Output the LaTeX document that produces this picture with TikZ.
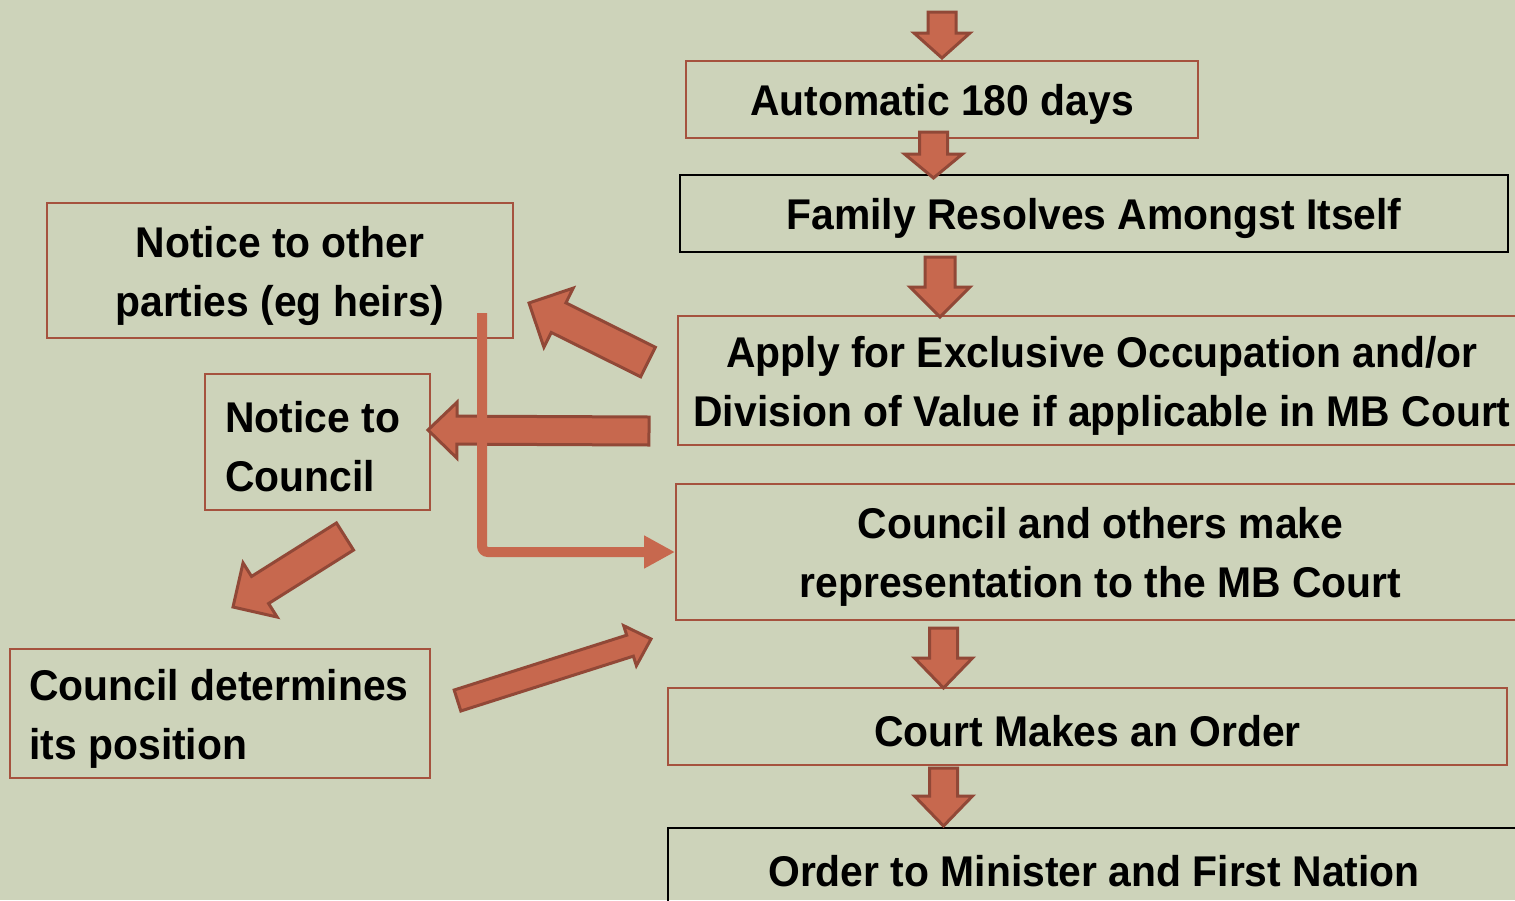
\documentclass[tikz,border=0pt]{standalone}
\usepackage{fontspec}
\setmainfont[FakeStretch=0.95]{Liberation Sans}
\usepackage{tikz}
\usetikzlibrary{calc, arrows.meta}

\definecolor{slide}{RGB}{205,211,186}
\definecolor{arrowfill}{RGB}{199,104,78}
\definecolor{arrowedge}{RGB}{145,72,55}
\definecolor{boxedge}{RGB}{165,82,62}

% block arrow: from, to, half shaft, half head, head length
\newcommand{\blockarrow}[5]{%
  \coordinate (neck) at ($(#2)!#5!(#1)$);
  \draw[block arrow] ($(#1)!#3!90:(#2)$) -- ($(neck)!#3!90:(#2)$)
    -- ($(neck)!#4!90:(#2)$) -- (#2) -- ($(neck)!#4!-90:(#2)$)
    -- ($(neck)!#3!-90:(#2)$) -- ($(#1)!#3!-90:(#2)$) -- cycle;}

\begin{document}
\begin{tikzpicture}[x=0.5pt, y=-0.5pt]
        % Setup the styles for the boxes and arrows
        \tikzset{box style/.style={draw=boxedge,
                                   line width=1pt,
                                   inner sep=0pt},
                 dark box/.style={box style, draw=black},
                 box text/.style={align=center,
                                  inner sep=0pt,
                                  yshift=-2.5pt,
                                  font=\bfseries\fontsize{21.5}{29.5}\selectfont},
                 left text/.style={box text, align=left, anchor=west, xshift=#1},
                 block arrow/.style={draw=arrowedge,
                                     fill=arrowfill,
                                     line width=1.5pt,
                                     line join=miter},
                 thin arrow/.style={draw=arrowfill,
                                    line width=5pt,
                                    rounded corners=3pt,
                                    -{Triangle[length=15.5pt,width=15.5pt]}}}

        % Background
        \useasboundingbox (0,0) rectangle (1515,900);
        \fill[slide] (0,0) rectangle (1515,900);

        % Draw the boxes
        \node[box style, minimum width=256pt, minimum height=38.5pt,
              label={[box text]center:Automatic 180 days}] at (942,99.5) (auto) {};
        \node[dark box, minimum width=414pt, minimum height=38.5pt,
              label={[box text]center:Family Resolves Amongst Itself}] at (1094,213.5) (family) {};
        \node[box style, minimum width=424pt, minimum height=64.5pt,
              label={[box text]center:{Apply for Exclusive Occupation and/or\\Division of Value if applicable in MB Court}}] at (1102,380.5) (apply) {};
        \node[box style, minimum width=424.5pt, minimum height=68pt,
              label={[box text]center:{Council and others make\\representation to the MB Court}}] at (1100.5,552) (represent) {};
        \node[box style, minimum width=419.5pt, minimum height=38.5pt,
              label={[box text]center:Court Makes an Order}] at (1087.5,726.5) (court) {};
        \node[dark box, minimum width=426pt, minimum height=38.5pt,
              label={[box text]center:Order to Minister and First Nation}] at (1094,866.5) (order) {};
        \node[box style, minimum width=233pt, minimum height=67.5pt,
              label={[box text]center:{Notice to other\\parties (eg heirs)}}] at (280,270.5) (heirs) {};
        \node[box style, minimum width=112.5pt, minimum height=68pt,
              label={[left text=10.5pt]west:{Notice to\\Council}}] at (317.5,442) (notice) {};
        \node[box style, minimum width=210pt, minimum height=64.5pt,
              label={[left text=10pt]west:{Council determines\\its position}}] at (220,713.5) (position) {};

        % Ends of the block arrows
        \coordinate (start) at (942,12);
        \coordinate (auto in) at (942,58);
        \coordinate (auto out) at (933.5,132);
        \coordinate (family in) at (933.5,178);
        \coordinate (family out) at (940,257);
        \coordinate (apply in) at (940,317);
        \coordinate (apply left) at (648,362);
        \coordinate (heirs in) at (529,303);
        \coordinate (apply back) at (649,431);
        \coordinate (notice in) at (428,430);
        \coordinate (notice out) at (345,536.5);
        \coordinate (position in) at (233,607);
        \coordinate (position out) at (457.5,700.5);
        \coordinate (represent in) at (651,639);
        \coordinate (represent out) at (943.5,628);
        \coordinate (court in) at (943.5,688);
        \coordinate (court out) at (943.5,768);
        \coordinate (order in) at (943.5,826);
        \coordinate (heirs line) at (482,313);

        % Connect the boxes with block arrows
        \blockarrow{start}{auto in}{7pt}{14pt}{12.5pt}
        \blockarrow{auto out}{family in}{7pt}{14.5pt}{12pt}
        \blockarrow{family out}{apply in}{7.5pt}{15pt}{15pt}
        \blockarrow{apply left}{heirs in}{8.25pt}{16.5pt}{16.5pt}
        \blockarrow{apply back}{notice in}{7pt}{14pt}{14.5pt}
        \blockarrow{notice out}{position in}{8pt}{16pt}{16pt}
        \blockarrow{position out}{represent in}{5.5pt}{10.5pt}{11pt}
        \blockarrow{represent out}{court in}{7pt}{14.5pt}{15pt}
        \blockarrow{court out}{order in}{7pt}{14.5pt}{15pt}

        % Line from the notice to the court
        \draw[thin arrow] (heirs line) |- (represent.west);
\end{tikzpicture}
\end{document}
